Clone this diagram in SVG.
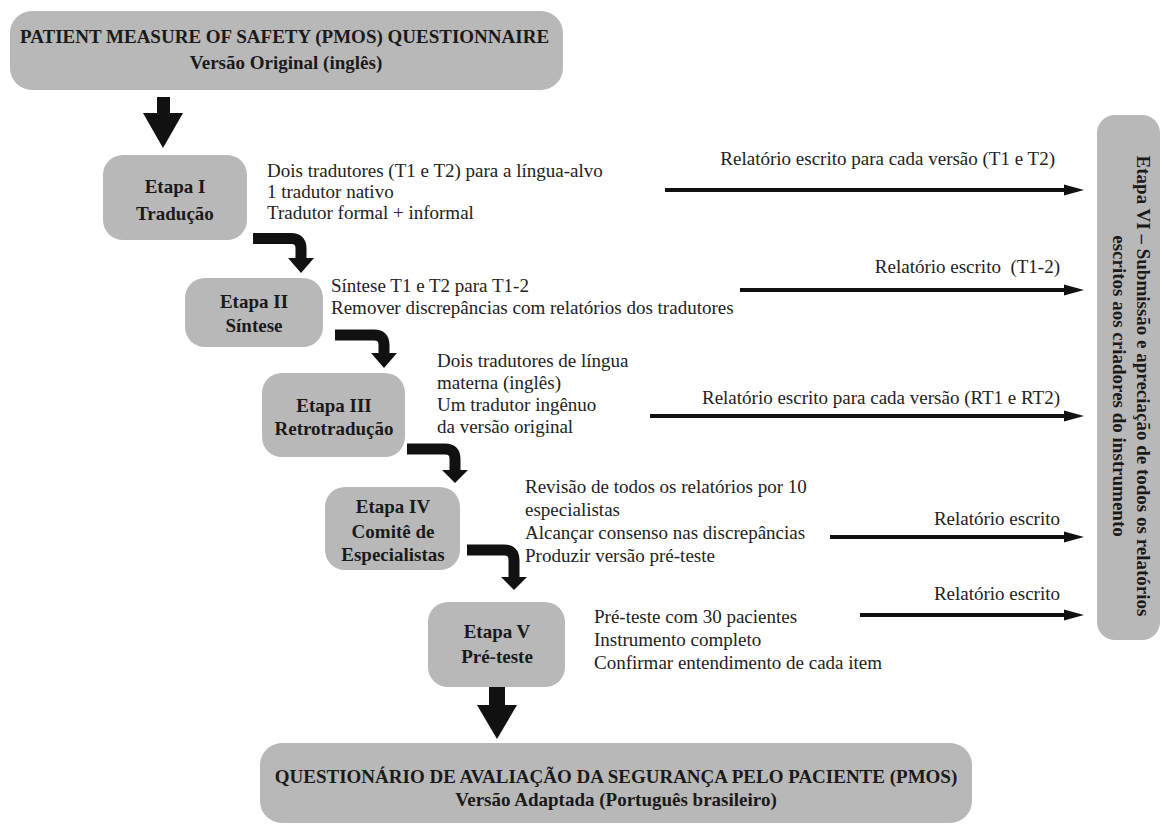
<svg xmlns="http://www.w3.org/2000/svg" width="1162" height="826" viewBox="0 0 1162 826">
<defs>
<style>
.box{fill:#b8b8b8;}
.title{font-family:"Liberation Serif","Times New Roman",serif;font-weight:bold;font-size:19px;fill:#1a1a1a;}
.stage{font-family:"Liberation Serif","Times New Roman",serif;font-weight:bold;font-size:19px;fill:#1a1a1a;text-anchor:middle;}
.body{font-family:"Liberation Serif","Times New Roman",serif;font-size:19px;fill:#222;}
.lbl{font-family:"Liberation Serif","Times New Roman",serif;font-size:19px;fill:#222;text-anchor:end;}
.rep{stroke:#111;stroke-width:4;fill:none;marker-end:url(#ah);}
.elbow{stroke:#111;stroke-width:11;fill:none;}
.head{fill:#111;}
</style>
<marker id="ah" markerUnits="userSpaceOnUse" markerWidth="20" markerHeight="12" refX="5" refY="6" orient="auto">
<path d="M0,0.5 L20,6 L0,11.5 Z" fill="#111"/>
</marker>
</defs>
<rect width="1162" height="826" fill="#fff"/>

<g id="original">
<rect class="box" x="10" y="11" width="553" height="79" rx="22"/>
<text class="title" x="20" y="43">PATIENT MEASURE OF SAFETY (PMOS) QUESTIONNAIRE</text>
<text class="title" x="286" y="69" text-anchor="middle">Versão Original (inglês)</text>
</g>

<g id="etapa1">
<rect class="box" x="103" y="155" width="144" height="85" rx="20"/>
<text class="stage" x="175" y="193">Etapa I</text>
<text class="stage" x="175" y="220">Tradução</text>
<text class="body" x="267" y="177">Dois tradutores (T1 e T2) para a língua-alvo</text>
<text class="body" x="267" y="198">1 tradutor nativo</text>
<text class="body" x="267" y="219">Tradutor formal + informal</text>
</g>

<g id="etapa2">
<rect class="box" x="185" y="278" width="138" height="69" rx="20"/>
<text class="stage" x="254" y="308">Etapa II</text>
<text class="stage" x="254" y="332">Síntese</text>
<text class="body" x="331" y="292">Síntese T1 e T2 para T1-2</text>
<text class="body" x="331" y="314">Remover discrepâncias com relatórios dos tradutores</text>
</g>

<g id="etapa3">
<rect class="box" x="262" y="373" width="143" height="84" rx="20"/>
<text class="stage" x="334" y="412">Etapa III</text>
<text class="stage" x="334" y="435">Retrotradução</text>
<text class="body" x="437" y="367">Dois tradutores de língua</text>
<text class="body" x="437" y="389">materna (inglês)</text>
<text class="body" x="437" y="411">Um tradutor ingênuo</text>
<text class="body" x="437" y="433">da versão original</text>
</g>

<g id="etapa4">
<rect class="box" x="325" y="487" width="135" height="83" rx="20"/>
<text class="stage" x="393" y="513">Etapa IV</text>
<text class="stage" x="393" y="538">Comitê de</text>
<text class="stage" x="393" y="561">Especialistas</text>
<text class="body" x="525" y="493">Revisão de todos os relatórios por 10</text>
<text class="body" x="525" y="516">especialistas</text>
<text class="body" x="525" y="539">Alcançar consenso nas discrepâncias</text>
<text class="body" x="525" y="562">Produzir versão pré-teste</text>
</g>

<g id="etapa5">
<rect class="box" x="428" y="602" width="137" height="85" rx="20"/>
<text class="stage" x="497" y="638">Etapa V</text>
<text class="stage" x="497" y="663">Pré-teste</text>
<text class="body" x="594" y="623">Pré-teste com 30 pacientes</text>
<text class="body" x="594" y="646">Instrumento completo</text>
<text class="body" x="594" y="669">Confirmar entendimento de cada item</text>
</g>

<g id="etapa6">
<rect class="box" x="1097" y="115" width="63" height="525" rx="18"/>
<text class="stage" transform="translate(1137,386) rotate(90)">Etapa VI – Submissão e apreciação de todos os relatórios</text>
<text class="stage" transform="translate(1113,386) rotate(90)">escritos aos criadores do instrumento</text>
</g>

<g id="adaptada">
<rect class="box" x="260" y="743" width="712" height="80" rx="22"/>
<text class="title" x="616" y="783" text-anchor="middle">QUESTIONÁRIO DE AVALIAÇÃO DA SEGURANÇA PELO PACIENTE (PMOS)</text>
<text class="title" x="616" y="806" text-anchor="middle">Versão Adaptada (Português brasileiro)</text>
</g>

<g id="connectors">
<rect class="head" x="157" y="97" width="13" height="17"/>
<polygon class="head" points="143,113 183,113 163,148"/>

<path class="elbow" d="M253,238.5 H291 Q301,238.5 301,248.5 V259"/>
<polygon class="head" points="288,258 314,258 301,273"/>

<path class="elbow" d="M335,335 H374 Q384,335 384,345 V354"/>
<polygon class="head" points="371,353 397,353 384,368"/>

<path class="elbow" d="M407,449 H445 Q455,449 455,459 V471"/>
<polygon class="head" points="442,470 468,470 455,483"/>

<path class="elbow" d="M467,550 H504 Q514,550 514,560 V578"/>
<polygon class="head" points="501,577 527,577 514,590"/>

<rect class="head" x="489" y="687" width="16" height="19"/>
<polygon class="head" points="477,705 517,705 497,739"/>

<line class="rep" x1="665" y1="190" x2="1069" y2="190"/>
<line class="rep" x1="740" y1="290" x2="1069" y2="290"/>
<line class="rep" x1="650" y1="416" x2="1069" y2="416"/>
<line class="rep" x1="830" y1="537" x2="1069" y2="537"/>
<line class="rep" x1="860" y1="615" x2="1069" y2="615"/>
</g>

<g id="labels">
<text class="lbl" x="1055" y="165">Relatório escrito para cada versão (T1 e T2)</text>
<text class="lbl" x="1060" y="273" xml:space="preserve">Relatório escrito  (T1-2)</text>
<text class="lbl" x="1060" y="404">Relatório escrito para cada versão (RT1 e RT2)</text>
<text class="lbl" x="1060" y="525">Relatório escrito</text>
<text class="lbl" x="1060" y="600">Relatório escrito</text>
</g>
</svg>
